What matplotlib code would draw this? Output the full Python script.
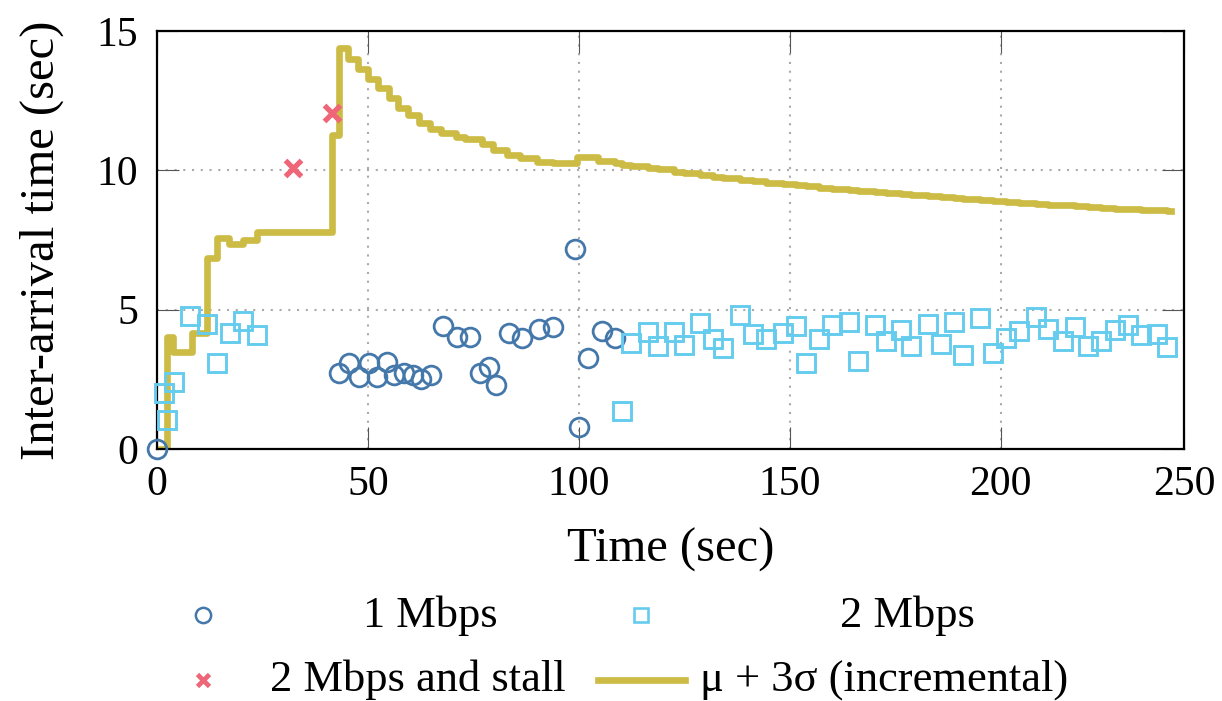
import matplotlib
matplotlib.use("Agg")
import matplotlib.pyplot as plt
from matplotlib.lines import Line2D

plt.rcParams["font.family"] = ["Liberation Serif", "DejaVu Serif"]

# colours (Paul Tol bright)
c_one = "#4477AA"
c_two = "#66CCEE"
c_stall = "#EE6677"
c_line = "#CCBB44"

# 1 Mbps arrivals
one_t = [0, 43.2, 45.5, 47.8, 50.1, 52.2, 54.5, 56.1, 58.5, 60.7, 62.5, 64.8,
         67.8, 71.1, 74.2, 76.5, 78.7, 80.3, 83.5, 86.6, 90.6, 93.8, 99.1,
         99.9, 102.2, 105.4, 108.5]
one_v = [0.0, 2.74, 3.07, 2.57, 3.10, 2.57, 3.13, 2.66, 2.74, 2.66, 2.50, 2.66,
         4.41, 4.01, 4.01, 2.72, 2.95, 2.30, 4.15, 3.99, 4.29, 4.37, 7.17,
         0.78, 3.25, 4.25, 3.97]

# 2 Mbps arrivals
two_t = [1.6, 2.2, 4.0, 7.75, 11.7, 14.1, 17.2, 20.4, 23.6,
         110.1, 112.4, 116.4, 118.7, 122.5, 124.9, 128.7, 131.8, 134.2, 138.2,
         141.3, 144.3, 148.3, 151.5, 153.8, 156.9, 160.1, 164.0, 166.2, 170.2,
         172.8, 176.3, 178.7, 182.7, 185.8, 188.9, 191.1, 195.1, 198.2, 201.4,
         204.4, 208.4, 211.3, 214.7, 217.6, 220.8, 223.9, 227.1, 230.3, 233.2,
         237.1, 239.5]
two_v = [2.0, 1.04, 2.42, 4.77, 4.47, 3.07, 4.15, 4.60, 4.09,
         1.37, 3.79, 4.21, 3.70, 4.21, 3.73, 4.53, 3.94, 3.64, 4.80,
         4.13, 3.94, 4.17, 4.41, 3.10, 3.94, 4.45, 4.57, 3.17, 4.45,
         3.87, 4.28, 3.70, 4.47, 3.76, 4.56, 3.37, 4.69, 3.43, 3.99,
         4.23, 4.75, 4.29, 3.88, 4.37, 3.70, 3.88, 4.27, 4.45, 4.09,
         4.12, 3.67]

# 2 Mbps and stall
stall_t = [32.1, 41.4]
stall_v = [10.07, 12.07]

# mu + 3 sigma (incremental), step values
thr_t = [0, 2.4, 3.8, 8.15, 11.7, 14.1, 17.1, 20.4, 23.6, 41.4, 43.1, 45.3,
         47.7, 49.9, 52.4, 55.0, 57.2, 59.5, 62.1, 64.7, 67.4, 70.8, 73.0,
         76.9, 79.7, 82.9, 86.0, 90.0, 93.9, 99.5, 104.6, 108.5,
         110.1, 112.4, 116.4, 118.7, 122.5, 124.9, 128.7, 131.8, 134.2, 138.2,
         141.3, 144.3, 148.3, 151.5, 153.8, 156.9, 160.1, 164.0, 166.2, 170.2,
         172.8, 176.3, 178.7, 182.7, 185.8, 188.9, 191.1, 195.1, 198.2, 201.4,
         204.4, 208.4, 211.3, 214.7, 217.6, 220.8, 223.9, 227.1, 230.3, 233.2,
         237.1, 239.5, 240.3]
thr_v = [0.0, 4.03, 3.49, 4.15, 6.84, 7.56, 7.36, 7.50, 7.80, 11.27, 14.38, 13.98,
         13.62, 13.26, 12.94, 12.60, 12.25, 11.98, 11.69, 11.47, 11.33, 11.21, 11.12,
         10.94, 10.73, 10.55, 10.43, 10.31, 10.25, 10.47, 10.34, 10.25,
         10.19, 10.15, 10.08, 10.03, 9.95, 9.90, 9.82, 9.76, 9.72, 9.66,
         9.60, 9.56, 9.52, 9.47, 9.43, 9.38, 9.32, 9.29, 9.26, 9.22,
         9.19, 9.14, 9.11, 9.07, 9.03, 9.00, 8.97, 8.93, 8.89, 8.86,
         8.83, 8.80, 8.77, 8.74, 8.71, 8.68, 8.66, 8.63, 8.61, 8.58,
         8.56, 8.54, 8.54]

x_ticks = [0, 50, 100, 150, 200, 243.5]
x_labels = ["0", "50", "100", "150", "200", "250"]
y_ticks = [0, 5, 10, 15]

W, H = 1222, 701
fig = plt.figure(figsize=(W / 100, H / 100), dpi=100)
ax = fig.add_axes([157.3 / W, 1 - 449 / H, (1184 - 157.3) / W, (449 - 31) / H])

ax.plot(thr_t, thr_v, drawstyle="steps-post", color=c_line, lw=4.8, zorder=2)
ax.plot(one_t, one_v, ls="none", marker="o", ms=13.5, mfc="none", mec=c_one,
        mew=2.0, clip_on=False, zorder=3)
ax.plot(two_t, two_v, ls="none", marker="s", ms=13, mfc="none", mec=c_two,
        mew=2.1, clip_on=False, zorder=3)
ax.plot(stall_t, stall_v, ls="none", marker="x", ms=11.5, mec=c_stall,
        mew=3.8, clip_on=False, zorder=4)

ax.set_xlim(0, 243.5)
ax.set_ylim(0, 15)
ax.set_xticks(x_ticks)
ax.set_xticklabels(x_labels)
ax.set_yticks(y_ticks)
ax.tick_params(direction="in", length=16, width=0.8, color="#555555",
               top=True, right=True, labelsize=30)
ax.tick_params(axis="x", pad=12)
ax.tick_params(axis="y", pad=14)
ax.grid(True, color="#aaaaaa", lw=1.5, ls=(0, (1, 3.2)))
ax.set_axisbelow(True)
for s in ax.spines.values():
    s.set_linewidth(1.6)
    s.set_color("black")

ax.set_xlabel("Time (sec)", fontsize=35, va="center")
ax.xaxis.set_label_coords(0.5, -0.2416)
ax.set_ylabel("Inter-arrival time (sec)", fontsize=35, va="center")
ax.yaxis.set_label_coords((42 - 157.3) / (1184 - 157.3), 0.5)

# legend, two columns with centred text
def fx(px):
    return px / W

def fy(py):
    return 1 - py / H

fig.add_artist(Line2D([fx(203)], [fy(615)], transform=fig.transFigure, ls="none",
                      marker="o", ms=11, mfc="none", mec=c_one, mew=1.8))
fig.add_artist(Line2D([fx(641)], [fy(615)], transform=fig.transFigure, ls="none",
                      marker="s", ms=10.5, mfc="none", mec=c_two, mew=1.9))
fig.add_artist(Line2D([fx(203)], [fy(680)], transform=fig.transFigure, ls="none",
                      marker="x", ms=9, mec=c_stall, mew=3.4))
fig.add_artist(Line2D([fx(598), fx(685)], [fy(680), fy(680)],
                      transform=fig.transFigure, color=c_line, lw=4.8))
fig.text(fx(430), fy(627), "1 Mbps", fontsize=32, ha="center", va="baseline")
fig.text(fx(907), fy(627), "2 Mbps", fontsize=32, ha="center", va="baseline")
fig.text(fx(417.5), fy(691), "2 Mbps and stall", fontsize=32, ha="center", va="baseline")
fig.text(fx(884), fy(691), "μ + 3σ (incremental)", fontsize=32, ha="center", va="baseline")

fig.savefig("out.png", dpi=100)
